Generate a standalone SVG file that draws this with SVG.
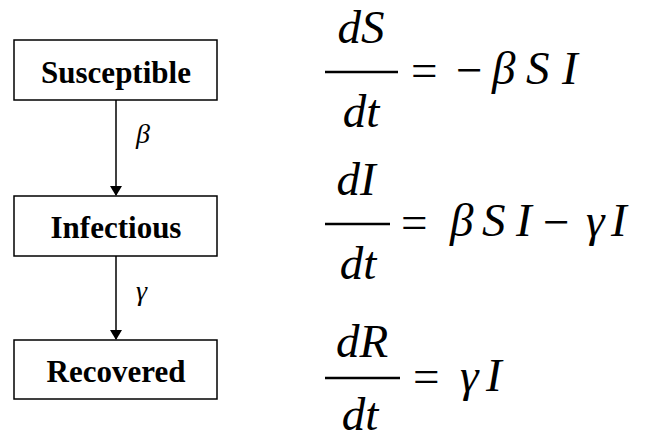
<svg xmlns="http://www.w3.org/2000/svg" width="658" height="439" viewBox="0 0 658 439">
<style>
.box{fill:#fff;stroke:#000;stroke-width:1.5}
.lbl{font-weight:bold;font-size:31px;text-anchor:middle}
.gk{font-style:italic;font-size:28px}
.m{font-style:italic;font-size:47px}
.mc{font-style:italic;font-size:47px;text-anchor:middle}
.op{font-size:47px}
.bar{stroke:#000;stroke-width:2.5}
.edge{stroke:#000;stroke-width:1.5;fill:none}
</style>
<defs>
<marker id="ah" markerWidth="10" markerHeight="12" refX="9" refY="6" orient="auto" markerUnits="userSpaceOnUse">
<path d="M0,0 L10,6 L0,12 Z" fill="#000"/>
</marker>
</defs>
<rect width="658" height="439" fill="#fff"/>
<g font-family="Liberation Serif, DejaVu Serif, serif">
<g id="connectors">
<line class="edge" x1="116" y1="100" x2="116" y2="195" marker-end="url(#ah)"/>
<line class="edge" x1="116" y1="256" x2="116" y2="339" marker-end="url(#ah)"/>
<text class="gk" x="136" y="143">β</text>
<text class="gk" x="136" y="300">γ</text>
</g>
<g id="susceptible">
<rect class="box" x="14" y="40" width="203" height="60"/>
<text class="lbl" x="116" y="83">Susceptible</text>
</g>
<g id="infectious">
<rect class="box" x="14" y="196" width="203" height="60"/>
<text class="lbl" x="116" y="238">Infectious</text>
</g>
<g id="recovered">
<rect class="box" x="14" y="340" width="203" height="59"/>
<text class="lbl" x="116" y="382">Recovered</text>
</g>
<g id="eq1">
<text class="mc" x="361" y="43">dS</text>
<line class="bar" x1="325" y1="72" x2="398" y2="72"/>
<text class="mc" x="361" y="127">dt</text>
<text class="op" x="411" y="86">=</text>
<text class="op" x="456" y="86">−</text>
<text class="m" x="492" y="84">β</text>
<text class="m" x="526" y="84">S</text>
<text class="m" x="562" y="84">I</text>
</g>
<g id="eq2">
<text class="mc" x="356" y="195">dI</text>
<line class="bar" x1="325" y1="224" x2="390" y2="224"/>
<text class="mc" x="358" y="279">dt</text>
<text class="op" x="401" y="238">=</text>
<text class="m" x="450" y="236">β</text>
<text class="m" x="482" y="236">S</text>
<text class="m" x="516" y="236">I</text>
<text class="op" x="543" y="238">−</text>
<text class="m" x="586" y="236">γ</text>
<text class="m" x="611" y="236">I</text>
</g>
<g id="eq3">
<text class="mc" x="362" y="357">dR</text>
<line class="bar" x1="325" y1="378" x2="400" y2="378"/>
<text class="mc" x="360" y="430">dt</text>
<text class="op" x="413" y="392">=</text>
<text class="m" x="460" y="391">γ</text>
<text class="m" x="486" y="391">I</text>
</g>
</g>
</svg>
